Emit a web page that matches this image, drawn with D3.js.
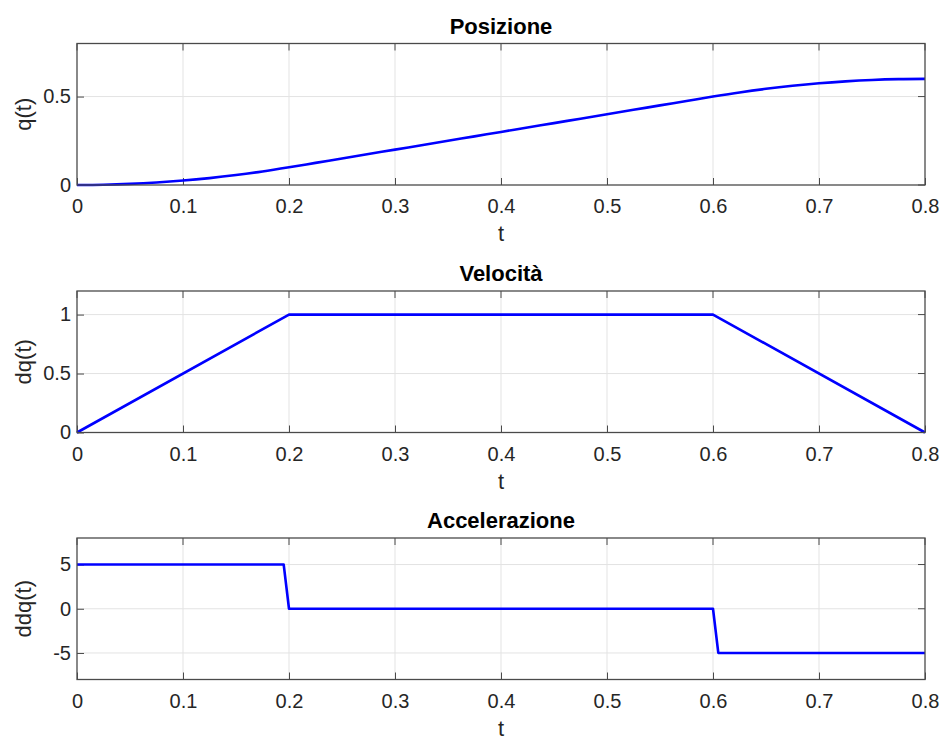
<!DOCTYPE html>
<html>
<head>
<meta charset="utf-8">
<script src="https://cdn.jsdelivr.net/npm/d3@7"></script>
<style>
  html, body { margin: 0; padding: 0; background: #ffffff; }
  svg { display: block; }
  text { font-family: "Liberation Sans", Arial, Helvetica, sans-serif; }
</style>
</head>
<body>
<svg id="chart" width="944" height="739"></svg>
<script>
// Time ticks shared by all three panels
const timeTicks = [0, 0.1, 0.2, 0.3, 0.4, 0.5, 0.6, 0.7, 0.8];

// Position q(t)
const posT = [0, 0.025, 0.05, 0.075, 0.1, 0.125, 0.15, 0.175, 0.2, 0.225, 0.25, 0.275,
              0.3, 0.325, 0.35, 0.375, 0.4, 0.425, 0.45, 0.475, 0.5, 0.525, 0.55, 0.575,
              0.6, 0.625, 0.65, 0.675, 0.7, 0.725, 0.75, 0.775, 0.8];
const posQ = [0, 0.0016, 0.0063, 0.0141, 0.025, 0.0391, 0.0563, 0.0766, 0.1, 0.125, 0.15, 0.175,
              0.2, 0.225, 0.25, 0.275, 0.3, 0.325, 0.35, 0.375, 0.4, 0.425, 0.45, 0.475,
              0.5, 0.5234, 0.5438, 0.5609, 0.575, 0.5859, 0.5938, 0.5984, 0.6];
const posTicks = [0, 0.5];

// Velocity dq(t)
const velT = [0, 0.2, 0.6, 0.8];
const velQ = [0, 1, 1, 0];
const velTicks = [0, 0.5, 1];

// Acceleration ddq(t)
const accT = [0, 0.195, 0.2, 0.6, 0.605, 0.8];
const accQ = [5, 5, 0, 0, -5, -5];
const accTicks = [-5, 0, 5];

const panels = [
  { title: "Posizione",     ylabel: "q(t)",   t: posT, v: posQ, yDomain: [0, 0.8],  yTicks: posTicks, top: 43.5 },
  { title: "Velocità",      ylabel: "dq(t)",  t: velT, v: velQ, yDomain: [0, 1.2],  yTicks: velTicks, top: 291 },
  { title: "Accelerazione", ylabel: "ddq(t)", t: accT, v: accQ, yDomain: [-8, 8],   yTicks: accTicks, top: 538 }
];

const left = 77, right = 925, plotH = 141.5;
const axisColor = "#262626", boxColor = "#4a4a4a", gridColor = "#e3e3e3";
const tickLen = 7;

const svg = d3.select("#chart");

panels.forEach(p => {
  const top = p.top, bottom = top + plotH;
  const x = d3.scaleLinear().domain([0, 0.8]).range([left, right]);
  const y = d3.scaleLinear().domain(p.yDomain).range([bottom, top]);
  const g = svg.append("g");

  // grid
  g.append("g").selectAll("line").data(timeTicks.slice(1, -1)).join("line")
    .attr("x1", d => x(d)).attr("x2", d => x(d)).attr("y1", top).attr("y2", bottom)
    .attr("stroke", gridColor).attr("stroke-width", 1);
  g.append("g").selectAll("line").data(p.yTicks.filter(d => y(d) > top + 1 && y(d) < bottom - 1)).join("line")
    .attr("x1", left).attr("x2", right).attr("y1", d => y(d)).attr("y2", d => y(d))
    .attr("stroke", gridColor).attr("stroke-width", 1);

  // bottom axis (ticks pointing inward), labels below
  const xAxis = d3.axisBottom(x).tickValues(timeTicks).tickSize(-tickLen).tickPadding(14)
    .tickFormat(d => d === 0 ? "0" : d3.format(".1f")(d));
  const gx = g.append("g").attr("transform", `translate(0,${bottom})`).call(xAxis);
  gx.select(".domain").remove();
  gx.selectAll(".tick line").attr("stroke", boxColor);
  gx.selectAll(".tick text").attr("fill", axisColor).attr("font-size", 20).attr("dy", "0.71em");

  // top ticks
  g.append("g").selectAll("line").data(timeTicks).join("line")
    .attr("x1", d => x(d)).attr("x2", d => x(d)).attr("y1", top).attr("y2", top + tickLen)
    .attr("stroke", boxColor);

  // left axis
  const yAxis = d3.axisLeft(y).tickValues(p.yTicks).tickSize(-tickLen).tickPadding(6)
    .tickFormat(d => String(d));
  const gy = g.append("g").attr("transform", `translate(${left},0)`).call(yAxis);
  gy.select(".domain").remove();
  gy.selectAll(".tick line").attr("stroke", boxColor);
  gy.selectAll(".tick text").attr("fill", axisColor).attr("font-size", 20);

  // right ticks
  g.append("g").selectAll("line").data(p.yTicks).join("line")
    .attr("x1", right - tickLen).attr("x2", right).attr("y1", d => y(d)).attr("y2", d => y(d))
    .attr("stroke", boxColor);

  // data line
  const pts = p.t.map((t, i) => [t, p.v[i]]);
  g.append("path").datum(pts)
    .attr("fill", "none").attr("stroke", "#0000ff").attr("stroke-width", 2.6)
    .attr("stroke-linejoin", "round")
    .attr("d", d3.line().x(d => x(d[0])).y(d => y(d[1])).curve(p.title === "Posizione" ? d3.curveMonotoneX : d3.curveLinear));

  // box
  g.append("rect").attr("x", left).attr("y", top).attr("width", right - left).attr("height", plotH)
    .attr("fill", "none").attr("stroke", boxColor).attr("stroke-width", 1.3);

  // title
  g.append("text").attr("x", (left + right) / 2).attr("y", top - 10)
    .attr("text-anchor", "middle").attr("font-weight", "bold").attr("font-size", 22)
    .attr("fill", "#000").text(p.title);

  // x label
  g.append("text").attr("x", (left + right) / 2).attr("y", bottom + 56)
    .attr("text-anchor", "middle").attr("font-size", 22).attr("fill", axisColor).text("t");

  // y label
  g.append("text").attr("transform", `translate(31,${(top + bottom) / 2}) rotate(-90)`)
    .attr("text-anchor", "middle").attr("font-size", 22).attr("fill", axisColor).text(p.ylabel);
});
</script>
</body>
</html>
